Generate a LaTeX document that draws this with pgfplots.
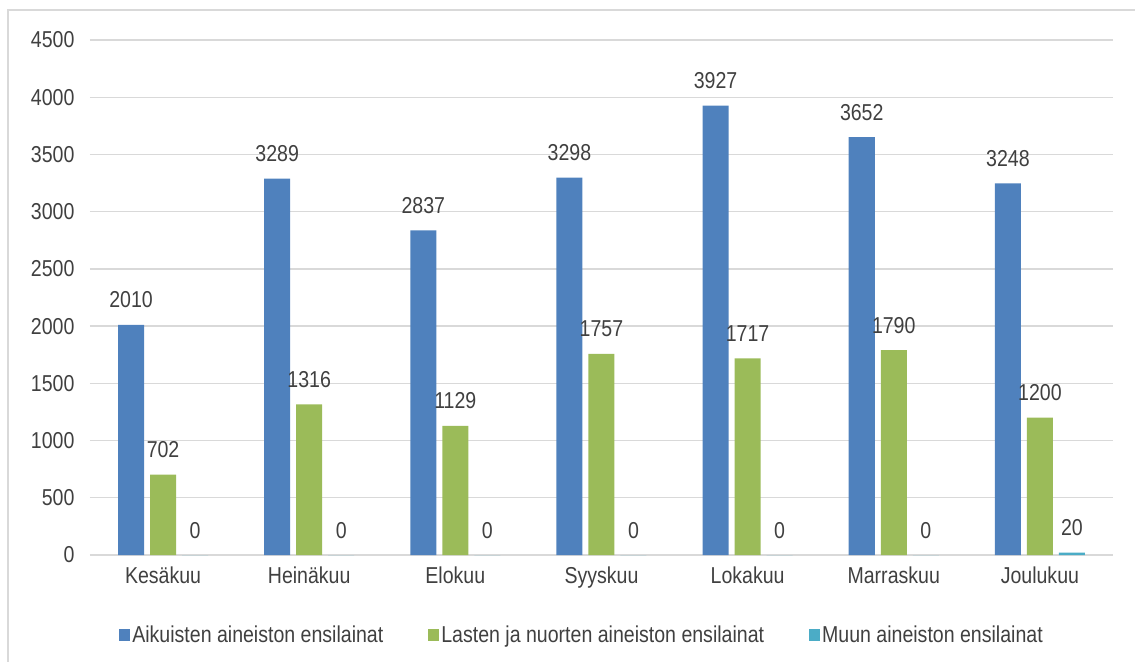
\documentclass[border=0pt]{standalone}
\usepackage{fontspec}
\setmainfont{Liberation Sans}[FakeStretch=0.85]
\usepackage{pgfplots}
\pgfplotsset{compat=1.18}
\definecolor{cblue}{HTML}{4F81BD}
\definecolor{cgreen}{HTML}{9BBB59}
\definecolor{ccyan}{HTML}{4BACC6}
\definecolor{txt}{HTML}{404040}
\definecolor{gridc}{HTML}{D9D9D9}
\begin{document}
\begin{tikzpicture}
\path[use as bounding box] (-90bp,-107bp) rectangle (1045bp,555bp);
\draw[gridc, line width=1.5bp] (-82bp,-110bp) -- (-82bp,545bp) -- (1050bp,545bp);
\begin{axis}[
  at={(0,0)}, anchor=south west,
  scale only axis, width=1023bp, height=515bp,
  ybar=6bp, bar width=26bp,
  xmin=-0.5, xmax=6.5, ymin=0, ymax=4500,
  ytick={0,500,...,4500},
  xtick={0,...,6},
  xticklabels={Kesäkuu,Heinäkuu,Elokuu,Syyskuu,Lokakuu,Marraskuu,Joulukuu},
  major tick length=0pt,
  axis line style={draw=none},
  ymajorgrids, grid style={draw=gridc, line width=1.3bp},
  font=\fontsize{23bp}{26bp}\selectfont,
  tick label style={text=txt},
  /pgf/number format/assume math mode=true,
  /pgf/number format/1000 sep={},
  yticklabel style={xshift=-12bp},
  xticklabel style={yshift=-8bp},
  nodes near coords,
  every node near coord/.append style={anchor=base, yshift=17bp, inner sep=0pt, text=txt, font=\fontsize{23bp}{26bp}\selectfont},
  legend columns=3,
  legend style={at={(0.481,-0.155)}, anchor=center, draw=none, fill=none,
    font=\fontsize{23bp}{26bp}\selectfont, text=txt,
    /tikz/every even column/.append style={column sep=43bp},
    inner sep=0pt},
  legend image code/.code={\fill[#1] (0bp,-6bp) rectangle (11bp,6bp);},
]
\addplot[fill=cblue, draw=none] coordinates {(0,2010) (1,3289) (2,2837) (3,3298) (4,3927) (5,3652) (6,3248)};
\addplot[fill=cgreen, draw=none] coordinates {(0,702) (1,1316) (2,1129) (3,1757) (4,1717) (5,1790) (6,1200)};
\addplot[fill=ccyan, draw=none] coordinates {(0,0) (1,0) (2,0) (3,0) (4,0) (5,0) (6,20)};
\legend{Aikuisten aineiston ensilainat, Lasten ja nuorten aineiston ensilainat, Muun aineiston ensilainat}
\end{axis}
\end{tikzpicture}
\end{document}
